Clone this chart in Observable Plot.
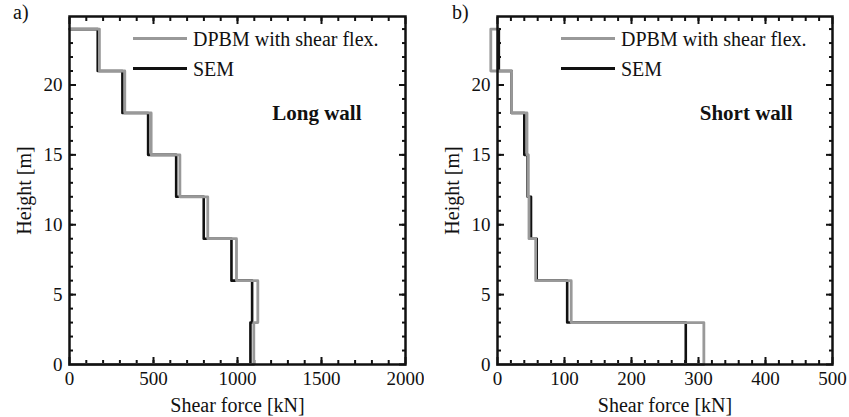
<!DOCTYPE html>
<html><head><meta charset="utf-8">
<script src="https://cdn.jsdelivr.net/npm/d3@7"></script>
<script src="https://cdn.jsdelivr.net/npm/@observablehq/plot@0.6"></script>
<style>
body{margin:0;background:#fff;}
#wrap{display:flex;width:849px;height:417px;}
.panel{position:relative;}
.tag{position:absolute;top:1px;font-size:20px;color:#111;}
</style></head><body><div id="wrap"></div>
<script>
// story levels (m)
const storyTop = [24, 21, 18, 15, 12, 9, 6, 3];
const storyBottom = [21, 18, 15, 12, 9, 6, 3, 0];
// Long wall shear force per story (kN), top to bottom
const longDPBM = [178, 329, 486, 657, 823, 994, 1121, 1097];
const longSEM = [168, 315, 468, 635, 799, 964, 1087, 1077];
// Short wall shear force per story (kN), top to bottom
const shortDPBM = [-10, 21, 44, 46, 47, 57, 110, 308];
const shortSEM = [2, 21, 40, 45, 50, 58.5, 104, 281];
// ticks
const longXTicks = [0, 500, 1000, 1500, 2000];
const shortXTicks = [0, 100, 200, 300, 400, 500];
const yTicks = [0, 5, 10, 15, 20];
const seriesNames = ["DPBM with shear flex.", "SEM"];
const seriesColors = ["#999999", "#111111"];
const panelTitles = ["Long wall", "Short wall"];
const panelTags = ["a)", "b)"];

const FAM = "Liberation Serif";
const Y_MAX = 24.9;

function steps(vals) {
  const pts = [{x: 0, y: storyTop[0]}];
  vals.forEach((v, i) => { pts.push({x: v, y: storyTop[i]}, {x: v, y: storyBottom[i]}); });
  pts.push({x: 0, y: 0});
  return pts;
}

function panel(cfg) {
  const fmt = d => String(d);
  const yMinor = d3.range(1, 25, 1);
  const H = 417, mt = 16, mb = 53;
  const tk = {stroke: "#111111", strokeWidth: 2, text: null, label: null};
  const plot = Plot.plot({
    width: cfg.width, height: H,
    marginLeft: cfg.ml, marginRight: cfg.mr, marginTop: mt, marginBottom: mb,
    x: {domain: cfg.xDomain},
    y: {domain: [0, Y_MAX]},
    marks: [
      Plot.axisX(cfg.xMinor, {anchor: "bottom", tickSize: -4, ...tk}),
      Plot.axisX(cfg.xMinor, {anchor: "top", tickSize: -4, ...tk}),
      Plot.axisY(yMinor, {anchor: "left", tickSize: -4, ...tk}),
      Plot.axisY(yMinor, {anchor: "right", tickSize: -4, ...tk}),
      Plot.axisX(cfg.xTicks, {anchor: "bottom", tickSize: -7, ...tk}),
      Plot.axisX(cfg.xTicks, {anchor: "top", tickSize: -7, ...tk}),
      Plot.axisY(yTicks, {anchor: "left", tickSize: -7, ...tk}),
      Plot.axisY(yTicks, {anchor: "right", tickSize: -7, ...tk}),
      Plot.axisX(cfg.xTicks, {anchor: "bottom", tickSize: 0, tickPadding: 7, tickFormat: fmt, label: null, fontSize: 19, fontFamily: FAM, fill: "#111"}),
      Plot.axisY(yTicks, {anchor: "left", tickSize: 0, tickPadding: 7, tickFormat: fmt, label: null, fontSize: 19, fontFamily: FAM, fill: "#111"}),
      Plot.line(steps(cfg.sem), {x: "x", y: "y", stroke: seriesColors[1], strokeWidth: 2.6}),
      Plot.line(steps(cfg.dpbm), {x: "x", y: "y", stroke: seriesColors[0], strokeWidth: 2.8}),
      Plot.frame({stroke: "#111111", strokeWidth: 2.5}),
      Plot.text([cfg.title], {frameAnchor: "top-right", dx: cfg.titleDx, dy: 97, lineAnchor: "middle", textAnchor: "end", fontWeight: "bold", fontSize: 21, fontFamily: FAM, fill: "#111"}),
      Plot.text(["Shear force [kN]"], {frameAnchor: "bottom", dy: 41, lineAnchor: "middle", fontSize: 20, fontFamily: FAM, fill: "#111"}),
      Plot.text(["Height [m]"], {frameAnchor: "left", dx: -45, rotate: -90, lineAnchor: "middle", textAnchor: "middle", fontSize: 20, fontFamily: FAM, fill: "#111"})
    ]
  });
  const svg = d3.select(plot);
  const lx0 = cfg.ml + 64, lx1 = cfg.ml + 118, ly = [38.5, 68.5];
  seriesNames.forEach((n, i) => {
    svg.append("line").attr("x1", lx0).attr("x2", lx1).attr("y1", ly[i]).attr("y2", ly[i])
      .attr("stroke", seriesColors[i]).attr("stroke-width", 2.8);
    const t = svg.append("text").attr("x", lx1 + 6).attr("y", ly[i]).attr("dy", "0.35em")
      .attr("text-anchor", "start").attr("font-size", 20).attr("fill", "#111").text(n);
    t.node().style.fontFamily = '"' + FAM + '"';
  });
  const div = document.createElement("div");
  div.className = "panel";
  div.style.width = cfg.width + "px";
  div.appendChild(plot);
  const tag = document.createElement("div");
  tag.className = "tag";
  tag.style.left = cfg.tagX + "px";
  tag.style.fontFamily = '"' + FAM + '"';
  tag.textContent = cfg.tag;
  div.appendChild(tag);
  return div;
}

const wrap = document.getElementById("wrap");
wrap.appendChild(panel({
  width: 424, ml: 69, mr: 19, xDomain: [0, 2000], xTicks: longXTicks, xMinor: d3.range(100, 2000, 100),
  dpbm: longDPBM, sem: longSEM, title: panelTitles[0], titleDx: -44, tag: panelTags[0], tagX: 13
}));
wrap.appendChild(panel({
  width: 425, ml: 73, mr: 17, xDomain: [0, 500], xTicks: shortXTicks, xMinor: d3.range(20, 500, 20),
  dpbm: shortDPBM, sem: shortSEM, title: panelTitles[1], titleDx: -40, tag: panelTags[1], tagX: 28
}));
</script></body></html>
